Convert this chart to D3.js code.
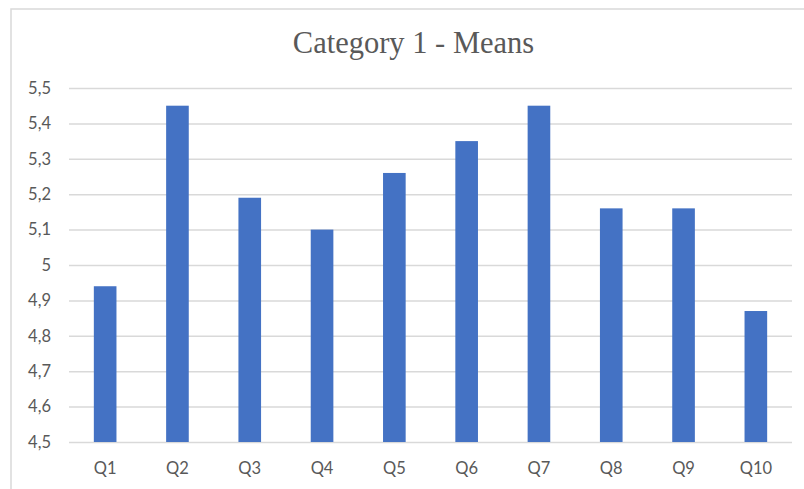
<!DOCTYPE html>
<html>
<head>
<meta charset="utf-8">
<script src="https://cdn.jsdelivr.net/npm/d3@7"></script>
<style>
  html, body { margin: 0; padding: 0; background: #fff; }
  svg { display: block; }
</style>
</head>
<body>
<svg id="chart" width="804" height="489"></svg>
<script>
const title = "Category 1 - Means";
const categories = ["Q1","Q2","Q3","Q4","Q5","Q6","Q7","Q8","Q9","Q10"];
const values = [4.94, 5.45, 5.19, 5.10, 5.26, 5.35, 5.45, 5.16, 5.16, 4.87];
const yTicks = [4.5, 4.6, 4.7, 4.8, 4.9, 5.0, 5.1, 5.2, 5.3, 5.4, 5.5];

const W = 804, H = 489;
const margin = { left: 69, right: 12, top: 88, bottom: 47 };
const svg = d3.select("#chart");

// chart frame
svg.append("rect")
  .attr("x", 11).attr("y", 9)
  .attr("width", W + 20).attr("height", H + 20)
  .attr("fill", "#fff")
  .attr("stroke", "#d9d9d9").attr("stroke-width", 1.5);

const x = d3.scaleBand()
  .domain(categories)
  .range([margin.left, W - margin.right])
  .paddingInner(0.687).paddingOuter(0.3435);

const y = d3.scaleLinear()
  .domain([4.5, 5.5])
  .range([H - margin.bottom, margin.top]);

const fmt = d => d3.format(".1f")(d).replace(/\.0$/, "").replace(".", ",");

// gridlines
const yAxis = d3.axisLeft(y)
  .tickValues(yTicks)
  .tickSize(-(W - margin.right - margin.left))
  .tickPadding(18)
  .tickFormat(fmt);

const gy = svg.append("g")
  .attr("transform", `translate(${margin.left},0)`)
  .call(yAxis);
gy.select(".domain").remove();
gy.selectAll(".tick line").attr("stroke", "#d9d9d9").attr("stroke-width", 1.5);
gy.selectAll(".tick text")
  .attr("fill", "#595959")
  .attr("font-family", "Lato, 'Open Sans', sans-serif")
  .attr("font-size", 16.5);

// bars
svg.append("g").selectAll("rect")
  .data(values)
  .join("rect")
  .attr("x", (d, i) => x(categories[i]))
  .attr("width", x.bandwidth())
  .attr("y", d => y(d))
  .attr("height", d => y(4.5) - y(d))
  .attr("fill", "#4472c4");

// x axis labels
const xAxis = d3.axisBottom(x).tickSize(0).tickPadding(20);
const gx = svg.append("g")
  .attr("transform", `translate(0,${H - margin.bottom})`)
  .call(xAxis);
gx.select(".domain").remove();
gx.selectAll(".tick text")
  .attr("fill", "#595959")
  .attr("font-family", "Lato, 'Open Sans', sans-serif")
  .attr("font-size", 16.5);

// title
svg.append("text")
  .attr("x", 413.5).attr("y", 53)
  .attr("text-anchor", "middle")
  .attr("fill", "#595959")
  .attr("font-family", "'Liberation Serif', 'DejaVu Serif', serif")
  .attr("font-size", 30.5)
  .text(title);
</script>
</body>
</html>
